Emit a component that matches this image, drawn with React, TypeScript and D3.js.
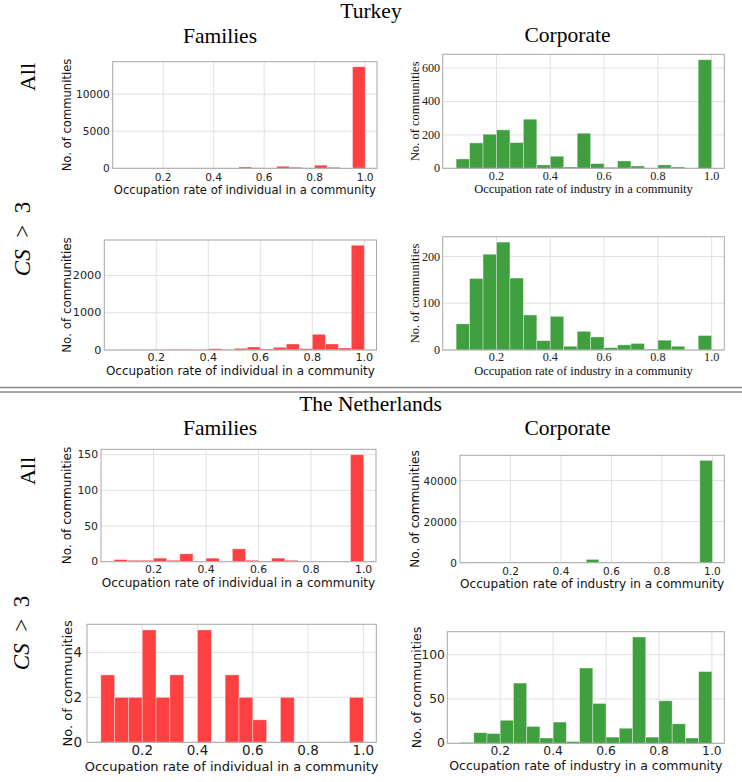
import React from 'react';
import * as d3 from 'd3';

// Histogram bins: left edges of the 19 bins of width 0.05 (last bin ends at 1.0)
const binStarts = [0.05, 0.10, 0.15, 0.20, 0.25, 0.30, 0.35, 0.40, 0.45, 0.50, 0.55, 0.60, 0.65, 0.70, 0.75, 0.80, 0.85, 0.90, 0.95];
const BIN_WIDTH = 0.05;
const xTickValues = [0.2, 0.4, 0.6, 0.8, 1.0];
const xTickLabels = ['0.2', '0.4', '0.6', '0.8', '1.0'];

// Turkey
const turkeyFamiliesAll = [8, 12, 10, 15, 12, 20, 15, 25, 20, 180, 60, 40, 280, 150, 50, 420, 140, 30, 13700];
const turkeyCorporateAll = [56, 152, 204, 230, 154, 294, 20, 72, 8, 210, 28, 6, 44, 14, 2, 20, 8, 0, 650];
const turkeyFamiliesCS = [4, 6, 5, 8, 15, 10, 8, 36, 10, 45, 80, 27, 72, 161, 36, 421, 161, 54, 2810];
const turkeyCorporateCS = [56, 153, 205, 231, 154, 75, 20, 72, 8, 40, 28, 5, 11, 14, 2, 21, 8, 0, 31];

// The Netherlands
const netherlandsFamiliesAll = [3, 2, 2, 5, 2, 11, 0, 5, 0, 18, 2, 1, 5, 2, 0, 0, 0, 0, 150];
const netherlandsCorporateAll = [20, 30, 40, 60, 80, 150, 40, 60, 30, 1600, 50, 40, 150, 100, 10, 30, 20, 10, 49800];
const netherlandsFamiliesCS = [3, 2, 2, 5, 2, 3, 0, 5, 0, 3, 2, 1, 0, 2, 0, 0, 0, 0, 2];
const netherlandsCorporateCS = [1, 12, 11, 26, 68, 19, 6, 24, 2, 85, 45, 7, 17, 120, 7, 48, 22, 6, 81];

// y tick values per panel
const turkeyFamiliesAllTicks = [0, 5000, 10000];
const turkeyCorporateAllTicks = [0, 200, 400, 600];
const turkeyFamiliesCSTicks = [0, 1000, 2000];
const turkeyCorporateCSTicks = [0, 100, 200];
const netherlandsFamiliesAllTicks = [0, 50, 100, 150];
const netherlandsCorporateAllTicks = [0, 20000, 40000];
const netherlandsFamiliesCSTicks = [0, 2, 4];
const netherlandsCorporateCSTicks = [0, 50, 100];

const X_LABEL_FAMILIES = 'Occupation rate of individual in a community';
const X_LABEL_CORPORATE = 'Occupation rate of industry in a community';
const Y_LABEL = 'No. of communities';

const RED = '#ff4040';
const GREEN = '#40a040';
const SANS = '"DejaVu Sans", sans-serif';
const SERIF = '"Liberation Serif", "Times New Roman", serif';
const TITLE_FONT = '"Liberation Serif", serif';

type Panel = {
  counts: number[];
  yTicks: number[];
  color: string;
  xLabel: string;
  left: number;
  right: number;
  top: number;
  bottom: number;
  font: string;
  tickSize: number;
  labelSize: number;
  tickBaseline: number;
  xLabelBaseline: number;
  yLabelX: number;
  yTickGap: number;
};

const panels: Panel[] = [
  { counts: turkeyFamiliesAll, yTicks: turkeyFamiliesAllTicks, color: RED, xLabel: X_LABEL_FAMILIES,
    left: 112.7, right: 377, top: 61.7, bottom: 168.3, font: SANS, tickSize: 10.6, labelSize: 11.6,
    tickBaseline: 181, xLabelBaseline: 193.5, yLabelX: 67, yTickGap: 3 },
  { counts: turkeyCorporateAll, yTicks: turkeyCorporateAllTicks, color: GREEN, xLabel: X_LABEL_CORPORATE,
    left: 442.7, right: 724.3, top: 54.3, bottom: 168.3, font: SERIF, tickSize: 12.2, labelSize: 12.5,
    tickBaseline: 179.5, xLabelBaseline: 192.5, yLabelX: 415, yTickGap: 2.5 },
  { counts: turkeyFamiliesCS, yTicks: turkeyFamiliesCSTicks, color: RED, xLabel: X_LABEL_FAMILIES,
    left: 104.3, right: 376.5, top: 240, bottom: 350, font: SANS, tickSize: 11.2, labelSize: 11.9,
    tickBaseline: 361.2, xLabelBaseline: 374.5, yLabelX: 67, yTickGap: 3 },
  { counts: turkeyCorporateCS, yTicks: turkeyCorporateCSTicks, color: GREEN, xLabel: X_LABEL_CORPORATE,
    left: 442.7, right: 724.3, top: 236.7, bottom: 350, font: SERIF, tickSize: 12.2, labelSize: 12.5,
    tickBaseline: 361.2, xLabelBaseline: 374.5, yLabelX: 415, yTickGap: 2.5 },
  { counts: netherlandsFamiliesAll, yTicks: netherlandsFamiliesAllTicks, color: RED, xLabel: X_LABEL_FAMILIES,
    left: 101, right: 376, top: 449.3, bottom: 561.7, font: SANS, tickSize: 10.8, labelSize: 12.1,
    tickBaseline: 573, xLabelBaseline: 586.5, yLabelX: 67, yTickGap: 3 },
  { counts: netherlandsCorporateAll, yTicks: netherlandsCorporateAllTicks, color: GREEN, xLabel: X_LABEL_CORPORATE,
    left: 460, right: 724.3, top: 455.3, bottom: 562.7, font: SANS, tickSize: 10.5, labelSize: 12.1,
    tickBaseline: 574.5, xLabelBaseline: 588, yLabelX: 415, yTickGap: 3 },
  { counts: netherlandsFamiliesCS, yTicks: netherlandsFamiliesCSTicks, color: RED, xLabel: X_LABEL_FAMILIES,
    left: 87, right: 376.3, top: 624.3, bottom: 742.3, font: SANS, tickSize: 13.5, labelSize: 13,
    tickBaseline: 754.5, xLabelBaseline: 770.5, yLabelX: 67.5, yTickGap: 5 },
  { counts: netherlandsCorporateCS, yTicks: netherlandsCorporateCSTicks, color: GREEN, xLabel: X_LABEL_CORPORATE,
    left: 447.3, right: 724.3, top: 631.7, bottom: 743.3, font: SANS, tickSize: 12.3, labelSize: 12.5,
    tickBaseline: 755.2, xLabelBaseline: 770, yLabelX: 416, yTickGap: 2.5 },
];

const FRAME = '#a8a8a8';
const GRID = '#dedede';

function Histogram({ p }: { p: Panel }) {
  const x = d3.scaleLinear().domain([0, 1.047]).range([p.left, p.right]);
  const yMax = (d3.max(p.counts) as number) * 1.05;
  const y = d3.scaleLinear().domain([0, yMax]).range([p.bottom, p.top]);
  const cx = (p.left + p.right) / 2;
  const cy = (p.top + p.bottom) / 2;
  return (
    <g>
      {xTickValues.map((t) => (
        <line key={'gx' + t} x1={x(t)} x2={x(t)} y1={p.top} y2={p.bottom} stroke={GRID} strokeWidth={0.9} />
      ))}
      {p.yTicks.map((t) => (
        <line key={'gy' + t} x1={p.left} x2={p.right} y1={y(t)} y2={y(t)} stroke={GRID} strokeWidth={0.9} />
      ))}
      {p.counts.map((c, i) =>
        c > 0 ? (
          <rect
            key={'b' + i}
            x={x(binStarts[i])}
            width={x(binStarts[i] + BIN_WIDTH) - x(binStarts[i])}
            y={y(c)}
            height={p.bottom - y(c)}
            fill={p.color}
            stroke="rgba(255,255,255,0.45)"
            strokeWidth={0.8}
          />
        ) : null
      )}
      <rect x={p.left} y={p.top} width={p.right - p.left} height={p.bottom - p.top} fill="none" stroke={FRAME} strokeWidth={1} />
      {xTickValues.map((t, i) => (
        <text key={'tx' + t} x={x(t)} y={p.tickBaseline} textAnchor="middle" fontFamily={p.font} fontSize={p.tickSize} fill="#222">
          {xTickLabels[i]}
        </text>
      ))}
      {p.yTicks.map((t) => (
        <text key={'ty' + t} x={p.left - p.yTickGap} y={y(t)} textAnchor="end" dominantBaseline="central" fontFamily={p.font} fontSize={p.tickSize} fill="#222">
          {String(t)}
        </text>
      ))}
      <text x={cx} y={p.xLabelBaseline} textAnchor="middle" fontFamily={p.font} fontSize={p.labelSize} fill="#111">
        {p.xLabel}
      </text>
      <text
        transform={`translate(${p.yLabelX},${cy}) rotate(-90)`}
        textAnchor="middle"
        dominantBaseline="central"
        fontFamily={p.font}
        fontSize={p.labelSize}
        fill="#111"
      >
        {Y_LABEL}
      </text>
    </g>
  );
}

function RowLabel({ x, y, kind }: { x: number; y: number; kind: 'all' | 'cs' }) {
  return (
    <text transform={`translate(${x},${y}) rotate(-90)`} textAnchor="middle" fontFamily={TITLE_FONT} fontSize={kind === 'all' ? 22 : 23} fill="#000">
      {kind === 'all' ? (
        'All'
      ) : (
        <>
          <tspan fontStyle="italic">CS</tspan>
          <tspan>{'\u2002>\u20023'}</tspan>
        </>
      )}
    </text>
  );
}

export default function App() {
  return (
    <svg width={742} height={782} style={{ position: 'absolute', left: 0, top: 0, background: '#fff' }}>
      <rect x={0} y={0} width={742} height={782} fill="#fff" />
      <text x={371} y={17.5} textAnchor="middle" fontFamily={TITLE_FONT} fontSize={21.5}>Turkey</text>
      <text x={220} y={42.5} textAnchor="middle" fontFamily={TITLE_FONT} fontSize={21.5}>Families</text>
      <text x={567.5} y={41.5} textAnchor="middle" fontFamily={TITLE_FONT} fontSize={21.5}>Corporate</text>
      <RowLabel x={35} y={77} kind="all" />
      <RowLabel x={30} y={239} kind="cs" />

      <line x1={0} x2={742} y1={387.5} y2={387.5} stroke="#8a8a8a" strokeWidth={1.6} />
      <line x1={0} x2={742} y1={392} y2={392} stroke="#8a8a8a" strokeWidth={1.6} />

      <text x={370.5} y={411} textAnchor="middle" fontFamily={TITLE_FONT} fontSize={21.5}>The Netherlands</text>
      <text x={220} y={435} textAnchor="middle" fontFamily={TITLE_FONT} fontSize={21.5}>Families</text>
      <text x={567.5} y={434.5} textAnchor="middle" fontFamily={TITLE_FONT} fontSize={21.5}>Corporate</text>
      <RowLabel x={35} y={471} kind="all" />
      <RowLabel x={29} y={633} kind="cs" />

      {panels.map((p, i) => (
        <Histogram key={i} p={p} />
      ))}
    </svg>
  );
}
